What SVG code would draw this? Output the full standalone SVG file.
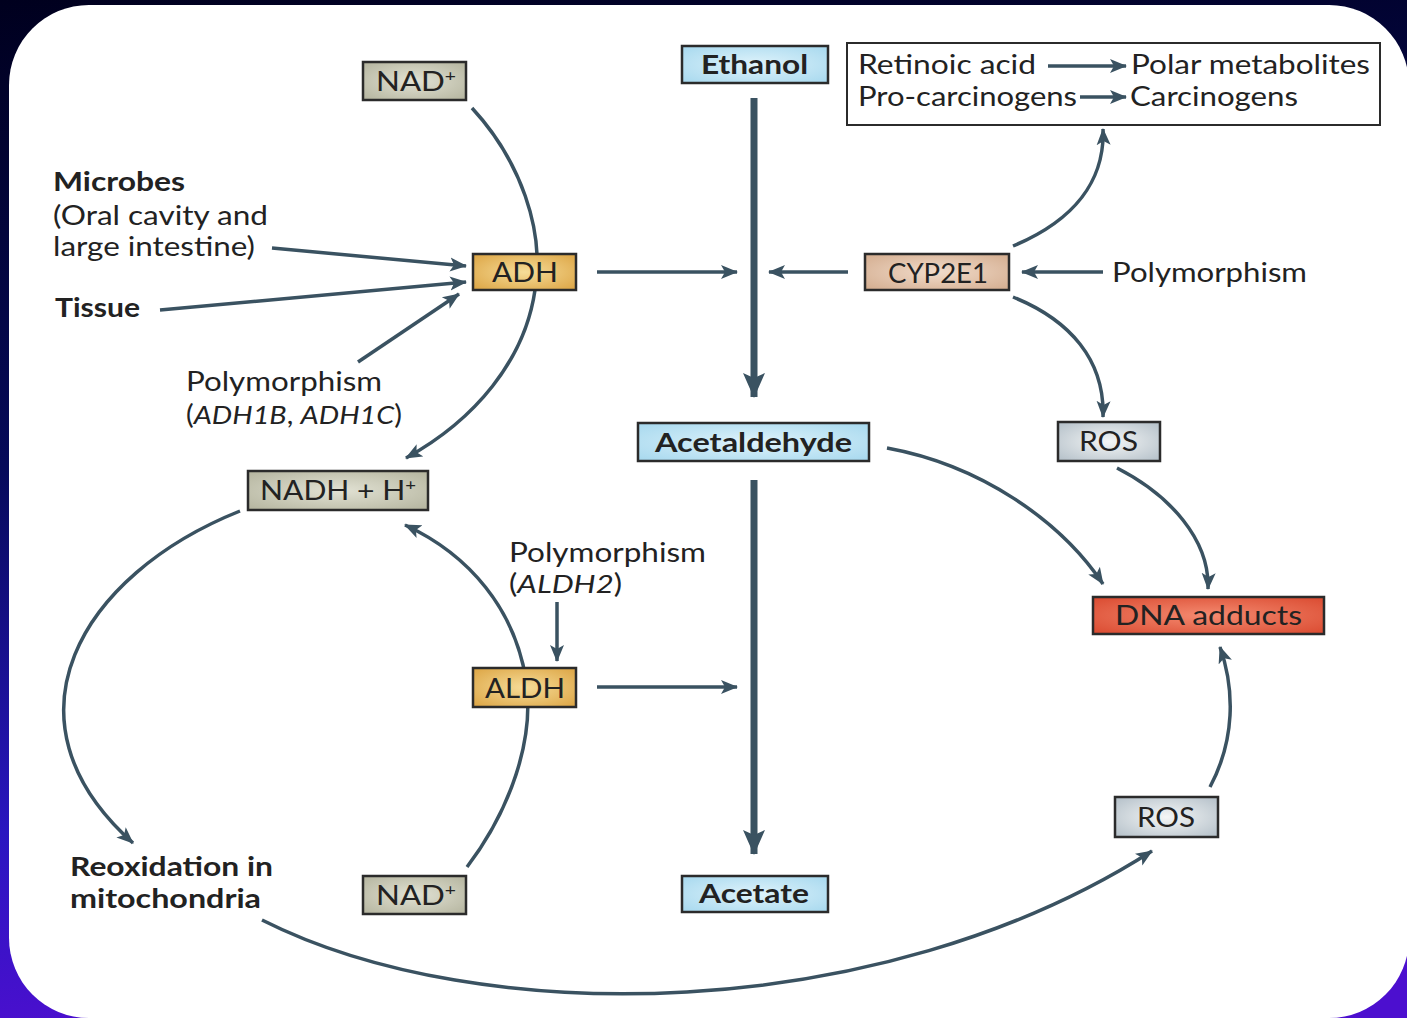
<svg xmlns="http://www.w3.org/2000/svg" width="1407" height="1018" viewBox="0 0 1407 1018">
<defs>
  <linearGradient id="bg" x1="0" y1="0" x2="0.15" y2="1">
    <stop offset="0" stop-color="#00001e"/>
    <stop offset="0.45" stop-color="#060a5a"/>
    <stop offset="0.8" stop-color="#2a16c0"/>
    <stop offset="1" stop-color="#4c0fcf"/>
  </linearGradient>
  <radialGradient id="gNad" cx="0.5" cy="0.5" r="0.7"><stop offset="0" stop-color="#e2e2d4"/><stop offset="1" stop-color="#b4b49e"/></radialGradient>
  <radialGradient id="gBlue" cx="0.5" cy="0.5" r="0.7"><stop offset="0" stop-color="#dff3fb"/><stop offset="1" stop-color="#a6d8ee"/></radialGradient>
  <radialGradient id="gOr" cx="0.5" cy="0.5" r="0.7"><stop offset="0" stop-color="#f6dc98"/><stop offset="1" stop-color="#dca443"/></radialGradient>
  <radialGradient id="gCyp" cx="0.5" cy="0.5" r="0.7"><stop offset="0" stop-color="#f1dccb"/><stop offset="1" stop-color="#d3ac8e"/></radialGradient>
  <radialGradient id="gRos" cx="0.5" cy="0.5" r="0.7"><stop offset="0" stop-color="#f4f6f6"/><stop offset="1" stop-color="#b3bfc8"/></radialGradient>
  <radialGradient id="gDna" cx="0.5" cy="0.5" r="0.7"><stop offset="0" stop-color="#f48a70"/><stop offset="1" stop-color="#da4a30"/></radialGradient>
  <marker id="ah" markerUnits="userSpaceOnUse" markerWidth="18" markerHeight="16" refX="16" refY="7" orient="auto" viewBox="0 0 18 14">
    <path d="M0,0 L17,7 L0,14 L4,7 Z" fill="#3a5261"/>
  </marker>
  <marker id="ahBig" markerUnits="userSpaceOnUse" markerWidth="26" markerHeight="24" refX="24" refY="11" orient="auto" viewBox="0 0 26 22">
    <path d="M0,0 L25,11 L0,22 L5,11 Z" fill="#3a5261"/>
  </marker>
</defs>
<style>
  .box { stroke: #2b2b2b; stroke-width: 2.5; }
  .t { font-family: Lato, "Open Sans", "Liberation Sans", sans-serif; font-size: 26px; fill: #222; }
  .b { font-weight: bold; }
  .i { font-style: italic; }
  .c { stroke: #3a5261; stroke-width: 3.5; fill: none; marker-end: url(#ah); }
  .cb { stroke: #3a5261; stroke-width: 7; fill: none; marker-end: url(#ahBig); }
</style>
<rect x="0" y="0" width="1407" height="1018" fill="url(#bg)"/>
<rect x="9" y="5" width="1400" height="1013" rx="80" ry="80" fill="#ffffff"/>

<g id="connectors">
  <line class="cb" x1="754" y1="98" x2="754" y2="397"/>
  <line class="cb" x1="754" y1="480" x2="754" y2="854"/>
  <line class="c" x1="597" y1="272" x2="737" y2="272"/>
  <line class="c" x1="848" y1="272" x2="769" y2="272"/>
  <line class="c" x1="1103" y1="272" x2="1022" y2="272"/>
  <line class="c" x1="597" y1="687" x2="737" y2="687"/>
  <line class="c" x1="272" y1="248" x2="466" y2="266"/>
  <line class="c" x1="160" y1="310" x2="466" y2="282"/>
  <line class="c" x1="358" y1="362" x2="459" y2="294"/>
  <line class="c" x1="557" y1="602" x2="557" y2="661"/>
  <path class="c" d="M472,108 C520,160 545,230 535,290 C525,360 475,420 406,458"/>
  <path class="c" d="M467,867 C510,810 535,740 526,680 C515,610 470,555 405,525"/>
  <path class="c" d="M240,511 C80,575 -5,720 133,843"/>
  <path class="c" d="M262,920 C480,1030 880,1025 1152,851"/>
  <path class="c" d="M1210,787 C1235,740 1235,690 1220,647"/>
  <path class="c" d="M887,448 C980,465 1060,520 1103,584"/>
  <path class="c" d="M1117,468 C1170,495 1210,540 1208,589"/>
  <path class="c" d="M1013,297 C1070,320 1105,360 1103,417"/>
  <path class="c" d="M1013,246 C1075,220 1105,180 1103,129"/>
</g>

<g id="node-nad-top"><rect class="box" x="363" y="62" width="103" height="38" fill="url(#gNad)"/><text class="t" x="376" y="91" textLength="80" lengthAdjust="spacingAndGlyphs">NAD<tspan font-size="16" dy="-10">+</tspan></text></g>
<g id="node-ethanol"><rect class="box" x="682" y="46" width="146" height="37" fill="url(#gBlue)"/><text class="t b" x="701" y="74" textLength="107" lengthAdjust="spacingAndGlyphs">Ethanol</text></g>
<g id="node-cyp-products"><rect x="847" y="43" width="533" height="82" fill="#fff" stroke="#2b2b2b" stroke-width="2"/>
  <text class="t" x="858" y="74" textLength="178" lengthAdjust="spacingAndGlyphs">Retinoic acid</text>
  <text class="t" x="1131" y="74" textLength="239" lengthAdjust="spacingAndGlyphs">Polar metabolites</text>
  <text class="t" x="858" y="106" textLength="219" lengthAdjust="spacingAndGlyphs">Pro-carcinogens</text>
  <text class="t" x="1130" y="106" textLength="168" lengthAdjust="spacingAndGlyphs">Carcinogens</text>
  <line class="c" x1="1048" y1="66" x2="1126" y2="66"/>
  <line class="c" x1="1080" y1="97" x2="1126" y2="97"/>
</g>
<g id="label-microbes">
  <text class="t b" x="53" y="191" textLength="132" lengthAdjust="spacingAndGlyphs">Microbes</text>
  <text class="t" x="53" y="225" textLength="215" lengthAdjust="spacingAndGlyphs">(Oral cavity and</text>
  <text class="t" x="53" y="256" textLength="202" lengthAdjust="spacingAndGlyphs">large intestine)</text>
</g>
<g id="label-tissue"><text class="t b" x="55" y="317" textLength="85" lengthAdjust="spacingAndGlyphs">Tissue</text></g>
<g id="label-poly-adh">
  <text class="t" x="186" y="391" textLength="196" lengthAdjust="spacingAndGlyphs">Polymorphism</text>
  <text class="t" x="186" y="424" textLength="216" lengthAdjust="spacingAndGlyphs">(<tspan class="i">ADH1B</tspan>, <tspan class="i">ADH1C</tspan>)</text>
</g>
<g id="node-adh"><rect class="box" x="473" y="254" width="103" height="36" fill="url(#gOr)"/><text class="t" x="492" y="282" textLength="66" lengthAdjust="spacingAndGlyphs">ADH</text></g>
<g id="node-cyp2e1"><rect class="box" x="865" y="254" width="144" height="36" fill="url(#gCyp)"/><text class="t" x="888" y="283" textLength="100" lengthAdjust="spacingAndGlyphs">CYP2E1</text></g>
<g id="label-poly-cyp"><text class="t" x="1112" y="282" textLength="195" lengthAdjust="spacingAndGlyphs">Polymorphism</text></g>
<g id="node-acetaldehyde"><rect class="box" x="638" y="423" width="231" height="38" fill="url(#gBlue)"/><text class="t b" x="655" y="452" textLength="197" lengthAdjust="spacingAndGlyphs">Acetaldehyde</text></g>
<g id="node-ros-top"><rect class="box" x="1058" y="422" width="102" height="39" fill="url(#gRos)"/><text class="t" x="1079" y="451" textLength="59" lengthAdjust="spacingAndGlyphs">ROS</text></g>
<g id="node-nadh"><rect class="box" x="248" y="471" width="180" height="39" fill="url(#gNad)"/><text class="t" x="260" y="500" textLength="156" lengthAdjust="spacingAndGlyphs">NADH + H<tspan font-size="16" dy="-10">+</tspan></text></g>
<g id="label-poly-aldh">
  <text class="t" x="509" y="562" textLength="197" lengthAdjust="spacingAndGlyphs">Polymorphism</text>
  <text class="t" x="509" y="593" textLength="113" lengthAdjust="spacingAndGlyphs">(<tspan class="i">ALDH2</tspan>)</text>
</g>
<g id="node-dna"><rect class="box" x="1093" y="597" width="231" height="37" fill="url(#gDna)"/><text class="t" x="1115" y="625" textLength="187" lengthAdjust="spacingAndGlyphs">DNA adducts</text></g>
<g id="node-aldh"><rect class="box" x="473" y="668" width="103" height="39" fill="url(#gOr)"/><text class="t" x="485" y="698" textLength="80" lengthAdjust="spacingAndGlyphs">ALDH</text></g>
<g id="node-ros-bottom"><rect class="box" x="1115" y="797" width="103" height="40" fill="url(#gRos)"/><text class="t" x="1137" y="827" textLength="58" lengthAdjust="spacingAndGlyphs">ROS</text></g>
<g id="label-reox">
  <text class="t b" x="70" y="876" textLength="203" lengthAdjust="spacingAndGlyphs">Reoxidation in</text>
  <text class="t b" x="70" y="908" textLength="191" lengthAdjust="spacingAndGlyphs">mitochondria</text>
</g>
<g id="node-nad-bottom"><rect class="box" x="363" y="876" width="103" height="38" fill="url(#gNad)"/><text class="t" x="376" y="905" textLength="80" lengthAdjust="spacingAndGlyphs">NAD<tspan font-size="16" dy="-10">+</tspan></text></g>
<g id="node-acetate"><rect class="box" x="682" y="876" width="146" height="36" fill="url(#gBlue)"/><text class="t b" x="699" y="903" textLength="110" lengthAdjust="spacingAndGlyphs">Acetate</text></g>
</svg>
